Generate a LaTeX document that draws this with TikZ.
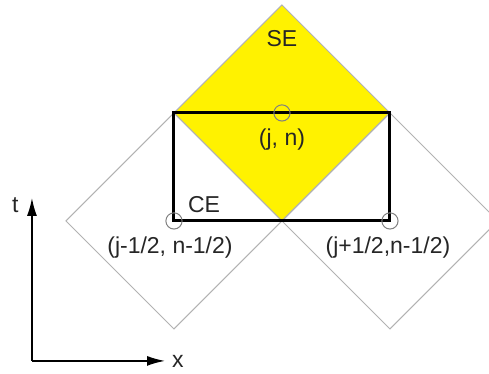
\documentclass[tikz,border=0pt]{standalone}
\usepackage{fontspec}
\setmainfont{Liberation Sans}
\usepackage{tikz}
\usetikzlibrary{arrows.meta}
\tikzstyle{cell} = [gray!60, line width=0.5pt]
\tikzstyle{mark pt} = [gray, line width=0.5pt]
\tikzstyle{axis} = [-{Latex[length=9pt,width=5pt]}, line width=0.8pt]
\tikzstyle{lbl} = [font=\fontsize{11.5}{13}\selectfont, text=black!85, inner sep=0pt]

\begin{document}
\begin{tikzpicture}[x=54pt,y=54pt]
\useasboundingbox (-2.611,-1.417) rectangle (1.917,2.046);
\begin{scope}
\clip (-2.611,-1.417) rectangle (1.917,2.046);
    % solution element
    \fill[yellow] (0,0) -- (1,1) -- (0,2) -- (-1,1) -- cycle;
    \draw[cell] (0,0) -- (1,1) -- (0,2) -- (-1,1) -- cycle;
    % neighbouring elements
    \draw[cell] (-2,0) -- (-1,1) -- (0,0) -- (-1,-1) -- cycle;
    \draw[cell] (0,0) -- (1,1) -- (2,0) -- (1,-1) -- cycle;
\end{scope}

    % conservation element
    \draw[line width=1.5pt] (-1,0) rectangle (1,1);

    \draw[mark pt] (0,1) circle[radius=0.075];
    \draw[mark pt] (-1,0) circle[radius=0.075];
    \draw[mark pt] (1,0) circle[radius=0.075];

    \node[lbl] (se) at (0,1.685) {SE};
    \node[lbl] (jn) at (0,0.75) {(j, n)};
    \node[lbl] (ce) at (-0.722,0.148) {CE};
    \node[lbl] (jm) at (-1.037,-0.25) {(j-1/2, n-1/2)};
    \node[lbl] (jp) at (0.981,-0.25) {(j+1/2,n-1/2)};

    % axes
    \coordinate (o) at (-2.315,-1.296);
    \coordinate (ttip) at (-2.315,0.213);
    \coordinate (xtip) at (-1.083,-1.296);
    \draw[axis] (o) -- (ttip);
    \draw[axis] (o) -- (xtip);
    \node[lbl] (t) at (-2.47,0.15) {t};
    \node[lbl] (x) at (-0.963,-1.30) {x};
\end{tikzpicture}
\end{document}
